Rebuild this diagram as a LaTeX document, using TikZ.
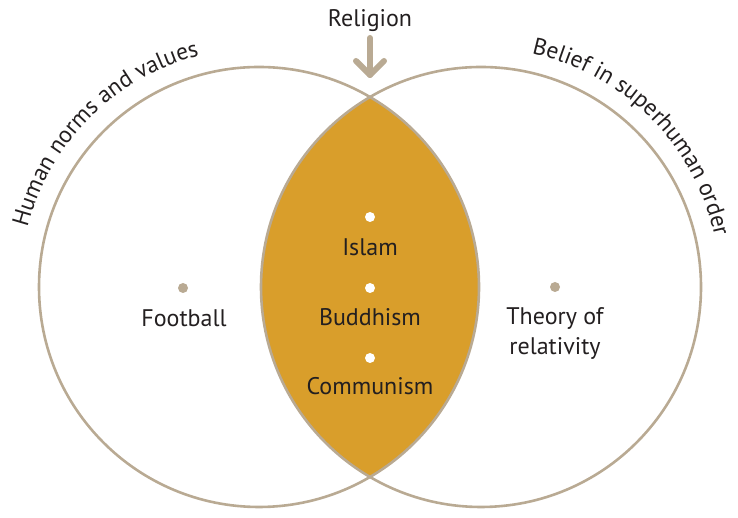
\documentclass[tikz,border=0pt]{standalone}
\usepackage{fontspec}
\setmainfont{PT Sans}
\usetikzlibrary{decorations.text,calc}
\definecolor{taupe}{HTML}{B9AA93}
\definecolor{gold}{HTML}{D99E2B}
\definecolor{ink}{HTML}{231F20}
\tikzset{
  ring/.style={draw=taupe, line width=2.6pt},
  dotw/.style={circle, fill=white, inner sep=0pt, minimum size=10pt},
  dott/.style={circle, fill=taupe, inner sep=0pt, minimum size=10pt},
  lbl/.style={text=ink, font=\fontsize{24}{30}\selectfont, inner sep=0pt},
  arrowline/.style={draw=taupe, line width=6pt, line cap=round, line join=round}
}
\begin{document}
\begin{tikzpicture}[x=1pt,y=1pt]
\useasboundingbox (0,0) rectangle (738,518);
\coordinate (L) at (259,231);
\coordinate (R) at (481,231);
% lens
\begin{scope}
  \clip (L) circle[radius=220pt];
  \fill[gold] (R) circle[radius=220pt];
\end{scope}
\draw[ring] (L) circle[radius=220pt];
\draw[ring] (R) circle[radius=220pt];
% curved labels
\path[decorate, decoration={text along path, text align=center,
  text={|\fontsize{23.5}{28}\selectfont\color{ink}|Human norms and values}}]
  (L) ++(195:239pt) arc[start angle=195, end angle=75, radius=239pt];
\path[decorate, decoration={text along path, text align=center,
  text={|\fontsize{23.5}{28}\selectfont\color{ink}|Belief in superhuman order}}]
  (R) ++(105:239pt) arc[start angle=105, end angle=-15, radius=239pt];
% Religion + arrow
\node[lbl, anchor=base] (rel) at (370,491) {Religion};
\coordinate (tip) at (370,443);
\coordinate (top) at (370,480);
\draw[arrowline] (top) -- (tip);
\draw[arrowline] ($(tip)+(-14,14)$) -- (tip) -- ($(tip)+(14,14)$);
% dots
\node[dotw] (d1) at (370,301) {};
\node[dotw] (d2) at (370,230) {};
\node[dotw] (d3) at (370,160) {};
\node[dott] (d4) at (183,230) {};
\node[dott] (d5) at (555,231) {};
% labels
\node[lbl, anchor=base] (islam) at (370,262) {Islam};
\node[lbl, anchor=base] (budd) at (370,192) {Buddhism};
\node[lbl, anchor=base] (comm) at (370,123) {Communism};
\node[lbl, anchor=base] (foot) at (184,191) {Football};
\node[lbl, align=center] (theory) at (555,185) {Theory of\\relativity};
\end{tikzpicture}
\end{document}
